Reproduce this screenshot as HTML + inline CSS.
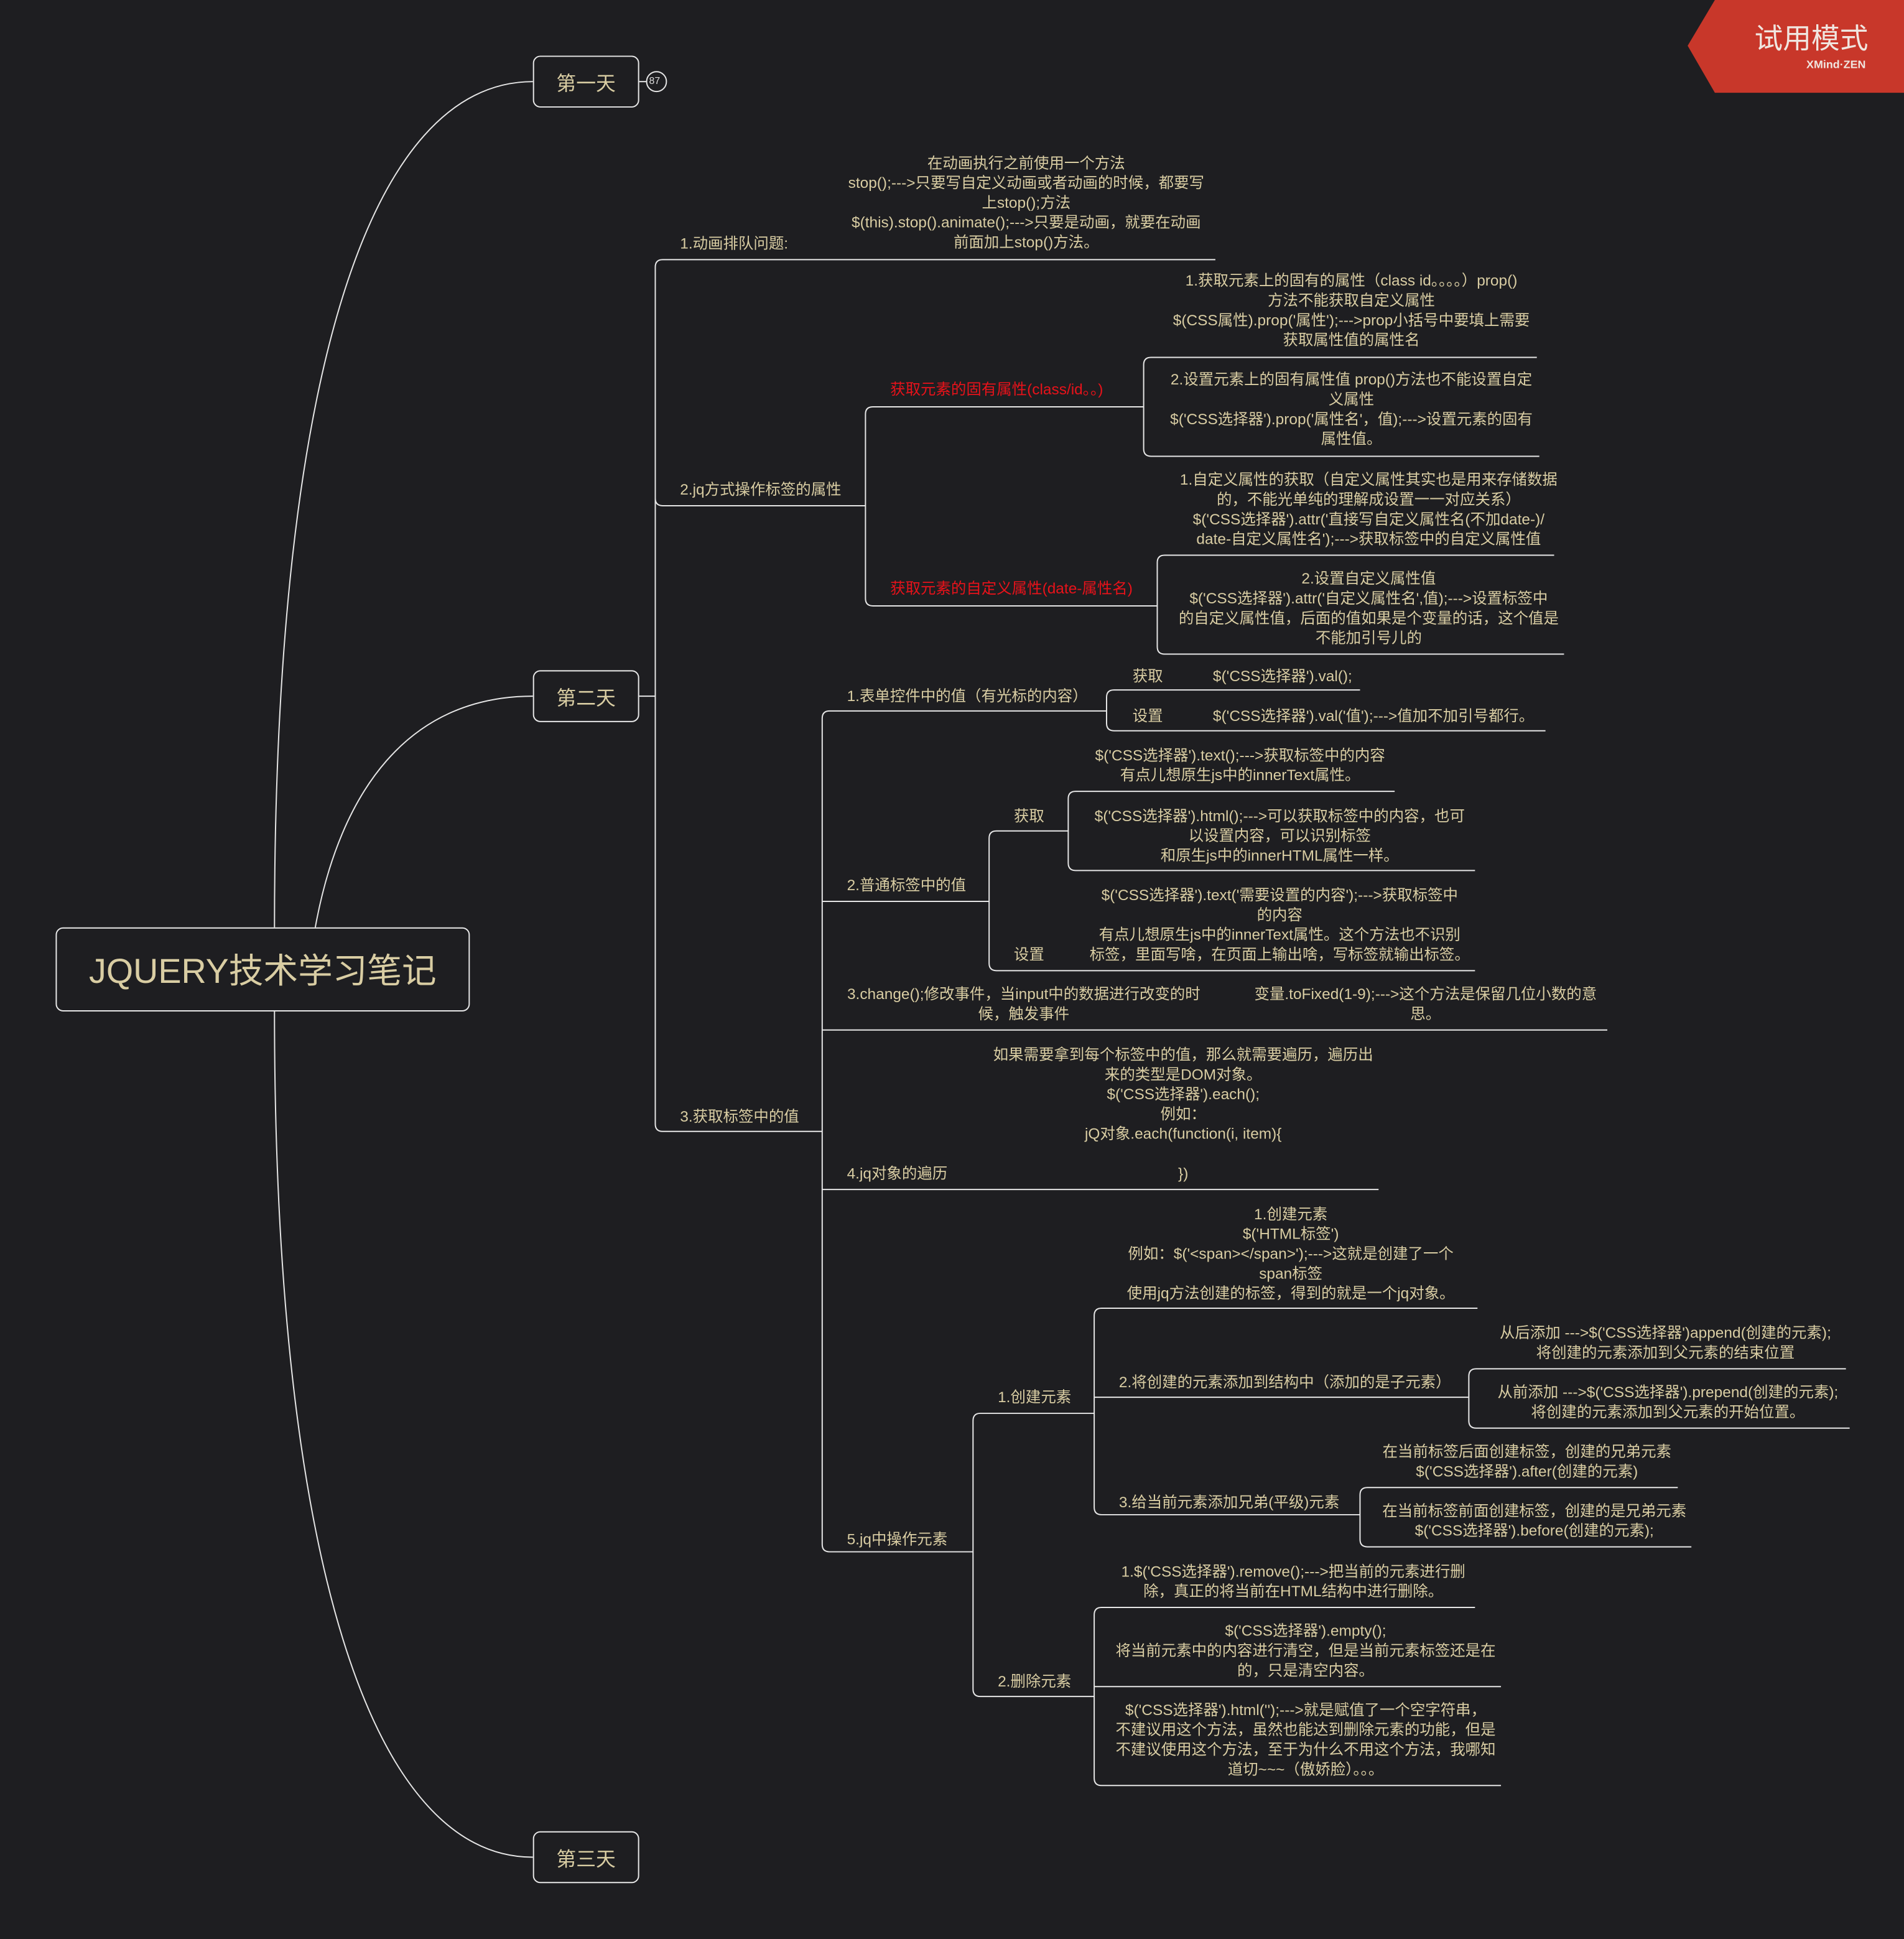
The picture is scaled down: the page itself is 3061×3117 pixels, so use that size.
<!DOCTYPE html>
<html><head><meta charset="utf-8">
<style>
html,body{margin:0;padding:0;background:#1e1e21;}
#w{width:3061px;height:3117px;overflow:hidden;position:relative;background:#1e1e21;}
#s{position:absolute;left:0;top:0;width:1540px;height:1568px;transform:scale(1.9877);transform-origin:0 0;}
.t{position:absolute;font-family:"Liberation Sans","Noto Sans CJK SC",sans-serif;font-size:12.3px;line-height:16px;color:#d9cda3;white-space:nowrap;}
.c{transform:translateX(-50%);text-align:center;}
.r{color:#e8121a;}
.box{position:absolute;border:1.3px solid #e8e8e8;border-radius:6px;box-sizing:border-box;font-family:"Liberation Sans","Noto Sans CJK SC",sans-serif;color:#d9cda3;display:flex;align-items:center;justify-content:center;}
svg{position:absolute;left:0;top:0;}
</style></head><body>
<div id="w"><div id="s">
<svg width="1540" height="1568" fill="none" stroke="#e6e6e6" stroke-width="1">
<path d="M222,750 C222,300 300,66 431,66"/>
<path d="M255,750 C275,640 330,563 431,563"/>
<path d="M222,818 C222,1260 300,1502 431,1502"/>
<path d="M517,563 H530"/>
<path d="M983,210 H536 Q530,210 530,216 V909 Q530,915 536,915 H665"/>
<path d="M530,403 Q530,409 536,409 H700"/>
<path d="M530,557 V563"/>
<path d="M925,329 H706 Q700,329 700,335 V484 Q700,490 706,490 H936"/>
<path d="M1243,289 H931 Q925,289 925,295 V363 Q925,369 931,369 H1245"/>
<path d="M1257,449 H942 Q936,449 936,455 V523 Q936,529 942,529 H1265"/>
<path d="M895,575 H671 Q665,575 665,581 V1249 Q665,1255 671,1255 H787"/>
<path d="M1100,558 H901 Q895,558 895,564 V585 Q895,591 901,591 H1250"/>
<path d="M665,729 H800"/>
<path d="M864,672 H806 Q800,672 800,678 V779 Q800,785 806,785 H1193"/>
<path d="M1128,640 H870 Q864,640 864,646 V698 Q864,704 870,704 H1193"/>
<path d="M665,833 H1300"/>
<path d="M665,962 H1115"/>
<path d="M885,1143 H793 Q787,1143 787,1149 V1366 Q787,1372 793,1372 H885"/>
<path d="M1195,1058 H891 Q885,1058 885,1064 V1219 Q885,1225 891,1225 H1100"/>
<path d="M885,1130 H1188"/>
<path d="M1493,1107 H1194 Q1188,1107 1188,1113 V1149 Q1188,1155 1194,1155 H1496"/>
<path d="M1357,1203 H1106 Q1100,1203 1100,1209 V1245 Q1100,1251 1106,1251 H1368"/>
<path d="M1193,1300 H891 Q885,1300 885,1306 V1438 Q885,1444 891,1444 H1214"/>
<path d="M885,1364 H1214"/>
<circle cx="531" cy="66" r="8" stroke-width="1"/>
<path d="M517,66 H523"/>
<polygon points="1387,0 1540,0 1540,75 1387,75 1365,37" fill="#c8372a" stroke="none"/>
</svg>
<div class="t" style="left:1419px;top:16px;font-size:23px;line-height:30px;color:#f0e6e0;">试用模式</div>
<div class="t" style="left:1461px;top:46px;font-size:9px;line-height:12px;color:#f0e6e0;font-weight:bold;">XMind·ZEN</div>
<div class="t" style="left:525px;top:60px;font-size:8px;line-height:12px;color:#ddd;">87</div>

<div class="box" style="left:45px;top:750px;width:335px;height:68px;font-size:28px;">JQUERY技术学习笔记</div>
<div class="box" style="left:431px;top:45px;width:86px;height:42px;font-size:16px;">第一天</div>
<div class="box" style="left:431px;top:542px;width:86px;height:42px;font-size:16px;">第二天</div>
<div class="box" style="left:431px;top:1481px;width:86px;height:42px;font-size:16px;">第三天</div>

<div class="t" style="left:550px;top:189px;">1.动画排队问题:</div>
<div class="t c" style="left:830px;top:124px;">在动画执行之前使用一个方法<br>stop();---&gt;只要写自定义动画或者动画的时候，都要写<br>上stop();方法<br>$(this).stop().animate();---&gt;只要是动画，就要在动画<br>前面加上stop()方法。</div>

<div class="t" style="left:550px;top:388px;">2.jq方式操作标签的属性</div>
<div class="t r" style="left:720px;top:307px;">获取元素的固有属性(class/id。。)</div>
<div class="t c" style="left:1093px;top:219px;">1.获取元素上的固有的属性（class id。。。。）prop()<br>方法不能获取自定义属性<br>$(CSS属性).prop('属性');---&gt;prop小括号中要填上需要<br>获取属性值的属性名</div>
<div class="t c" style="left:1093px;top:299px;">2.设置元素上的固有属性值 prop()方法也不能设置自定<br>义属性<br>$('CSS选择器').prop('属性名'，值);---&gt;设置元素的固有<br>属性值。</div>
<div class="t r" style="left:720px;top:468px;">获取元素的自定义属性(date-属性名)</div>
<div class="t c" style="left:1107px;top:380px;">1.自定义属性的获取（自定义属性其实也是用来存储数据<br>的，不能光单纯的理解成设置一一对应关系）<br>$('CSS选择器').attr('直接写自定义属性名(不加date-)/<br>date-自定义属性名');---&gt;获取标签中的自定义属性值</div>
<div class="t c" style="left:1107px;top:460px;">2.设置自定义属性值<br>$('CSS选择器').attr('自定义属性名',值);---&gt;设置标签中<br>的自定义属性值，后面的值如果是个变量的话，这个值是<br>不能加引号儿的</div>

<div class="t" style="left:550px;top:895px;">3.获取标签中的值</div>
<div class="t" style="left:685px;top:555px;">1.表单控件中的值（有光标的内容）</div>
<div class="t" style="left:916px;top:539px;">获取</div>
<div class="t" style="left:981px;top:539px;">$('CSS选择器').val();</div>
<div class="t" style="left:916px;top:571px;">设置</div>
<div class="t" style="left:981px;top:571px;">$('CSS选择器').val('值');---&gt;值加不加引号都行。</div>
<div class="t" style="left:685px;top:708px;">2.普通标签中的值</div>
<div class="t" style="left:820px;top:652px;">获取</div>
<div class="t c" style="left:1003px;top:603px;">$('CSS选择器').text();---&gt;获取标签中的内容<br>有点儿想原生js中的innerText属性。</div>
<div class="t c" style="left:1035px;top:652px;">$('CSS选择器').html();---&gt;可以获取标签中的内容，也可<br>以设置内容，可以识别标签<br>和原生js中的innerHTML属性一样。</div>
<div class="t" style="left:820px;top:764px;">设置</div>
<div class="t c" style="left:1035px;top:716px;">$('CSS选择器').text('需要设置的内容');---&gt;获取标签中<br>的内容<br>有点儿想原生js中的innerText属性。这个方法也不识别<br>标签，里面写啥，在页面上输出啥，写标签就输出标签。</div>
<div class="t c" style="left:828px;top:796px;">3.change();修改事件，当input中的数据进行改变的时<br>候，触发事件</div>
<div class="t c" style="left:1153px;top:796px;">变量.toFixed(1-9);---&gt;这个方法是保留几位小数的意<br>思。</div>
<div class="t" style="left:685px;top:941px;">4.jq对象的遍历</div>
<div class="t c" style="left:957px;top:845px;">如果需要拿到每个标签中的值，那么就需要遍历，遍历出<br>来的类型是DOM对象。<br>$('CSS选择器').each();<br>例如：<br>jQ对象.each(function(i, item){<br>&nbsp;<br>})</div>

<div class="t" style="left:685px;top:1237px;">5.jq中操作元素</div>
<div class="t" style="left:807px;top:1122px;">1.创建元素</div>
<div class="t c" style="left:1044px;top:974px;">1.创建元素<br>$('HTML标签')<br>例如：$('&lt;span&gt;&lt;/span&gt;');---&gt;这就是创建了一个<br>span标签<br>使用jq方法创建的标签，得到的就是一个jq对象。</div>
<div class="t" style="left:905px;top:1110px;">2.将创建的元素添加到结构中（添加的是子元素）</div>
<div class="t c" style="left:1347px;top:1070px;">从后添加 ---&gt;$('CSS选择器')append(创建的元素);<br>将创建的元素添加到父元素的结束位置</div>
<div class="t c" style="left:1349px;top:1118px;">从前添加 ---&gt;$('CSS选择器').prepend(创建的元素);<br>将创建的元素添加到父元素的开始位置。</div>
<div class="t" style="left:905px;top:1207px;">3.给当前元素添加兄弟(平级)元素</div>
<div class="t c" style="left:1235px;top:1166px;">在当前标签后面创建标签，创建的兄弟元素<br>$('CSS选择器').after(创建的元素)</div>
<div class="t c" style="left:1241px;top:1214px;">在当前标签前面创建标签，创建的是兄弟元素<br>$('CSS选择器').before(创建的元素);</div>
<div class="t" style="left:807px;top:1352px;">2.删除元素</div>
<div class="t c" style="left:1046px;top:1263px;">1.$('CSS选择器').remove();---&gt;把当前的元素进行删<br>除，真正的将当前在HTML结构中进行删除。</div>
<div class="t c" style="left:1056px;top:1311px;">$('CSS选择器').empty();<br>将当前元素中的内容进行清空，但是当前元素标签还是在<br>的，只是清空内容。</div>
<div class="t c" style="left:1056px;top:1375px;">$('CSS选择器').html('');---&gt;就是赋值了一个空字符串，<br>不建议用这个方法，虽然也能达到删除元素的功能，但是<br>不建议使用这个方法，至于为什么不用这个方法，我哪知<br>道切~~~（傲娇脸）。。。</div>
</div></div>
</body></html>
